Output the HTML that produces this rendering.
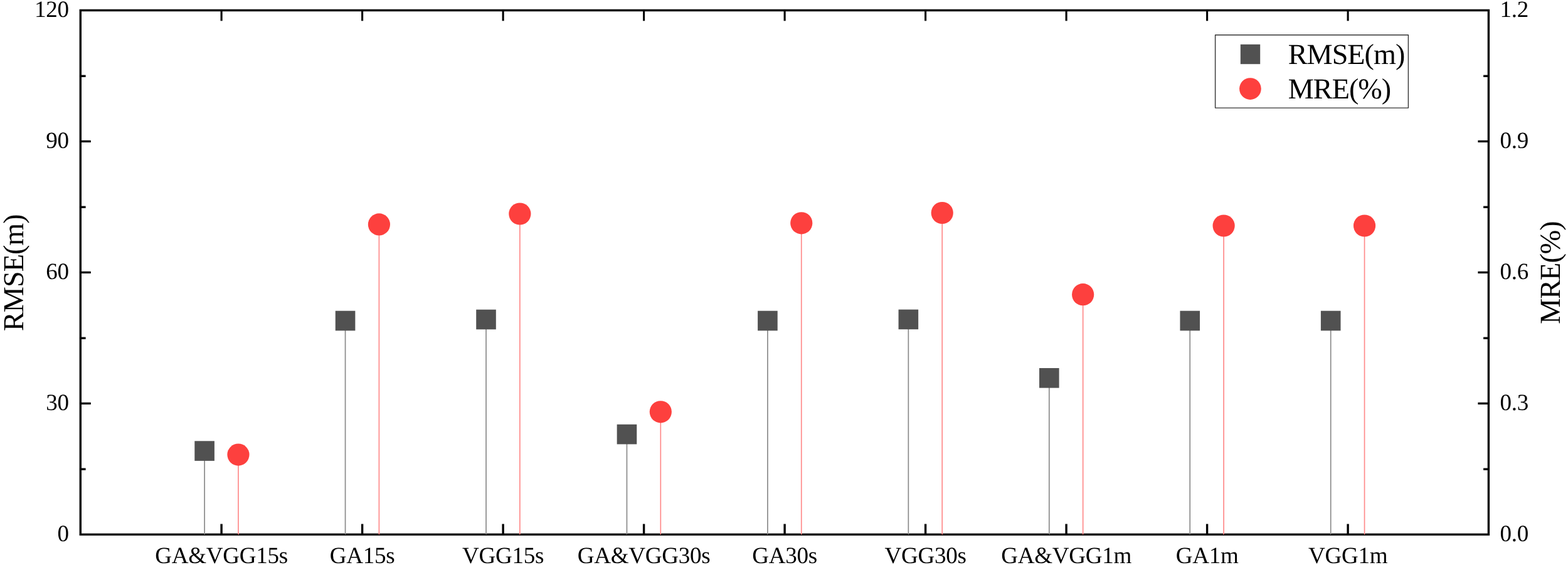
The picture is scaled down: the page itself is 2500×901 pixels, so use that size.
<!DOCTYPE html>
<html lang="en">
<head>
<meta charset="utf-8">
<title>RMSE and MRE comparison chart</title>
<style>
html,body{margin:0;padding:0;background:#fff;}
body{width:2500px;height:901px;overflow:hidden;}
svg{display:block;}
text{font-family:"Liberation Serif",serif;fill:#000;text-rendering:geometricPrecision;}
.tk{font-size:37.1px;letter-spacing:-0.3px;}
.ti{font-size:46.2px;letter-spacing:-0.95px;}
.lg{font-size:46.2px;letter-spacing:-1px;}
</style>
</head>
<body>
<svg width="2500" height="901" viewBox="0 0 2500 901">
<rect x="0" y="0" width="2500" height="901" fill="#ffffff"/>
<rect x="128.30" y="16.50" width="2245.10" height="835.85" fill="none" stroke="#000" stroke-width="3.4"/>
<g stroke="#000" stroke-width="3.3" fill="none">
<line x1="353.10" y1="852.35" x2="353.10" y2="835.55" stroke-width="3.4"/>
<line x1="353.10" y1="16.50" x2="353.10" y2="33.30" stroke-width="3.1"/>
<line x1="577.60" y1="852.35" x2="577.60" y2="835.55" stroke-width="3.4"/>
<line x1="577.60" y1="16.50" x2="577.60" y2="33.30" stroke-width="3.1"/>
<line x1="802.10" y1="852.35" x2="802.10" y2="835.55" stroke-width="3.4"/>
<line x1="802.10" y1="16.50" x2="802.10" y2="33.30" stroke-width="3.1"/>
<line x1="1026.60" y1="852.35" x2="1026.60" y2="835.55" stroke-width="3.4"/>
<line x1="1026.60" y1="16.50" x2="1026.60" y2="33.30" stroke-width="3.1"/>
<line x1="1251.10" y1="852.35" x2="1251.10" y2="835.55" stroke-width="3.4"/>
<line x1="1251.10" y1="16.50" x2="1251.10" y2="33.30" stroke-width="3.1"/>
<line x1="1475.60" y1="852.35" x2="1475.60" y2="835.55" stroke-width="3.4"/>
<line x1="1475.60" y1="16.50" x2="1475.60" y2="33.30" stroke-width="3.1"/>
<line x1="1700.10" y1="852.35" x2="1700.10" y2="835.55" stroke-width="3.4"/>
<line x1="1700.10" y1="16.50" x2="1700.10" y2="33.30" stroke-width="3.1"/>
<line x1="1924.60" y1="852.35" x2="1924.60" y2="835.55" stroke-width="3.4"/>
<line x1="1924.60" y1="16.50" x2="1924.60" y2="33.30" stroke-width="3.1"/>
<line x1="2149.10" y1="852.35" x2="2149.10" y2="835.55" stroke-width="3.4"/>
<line x1="2149.10" y1="16.50" x2="2149.10" y2="33.30" stroke-width="3.1"/>
<line x1="128.30" y1="748.17" x2="136.60" y2="748.17"/>
<line x1="2373.40" y1="748.17" x2="2365.10" y2="748.17"/>
<line x1="128.30" y1="643.39" x2="144.80" y2="643.39"/>
<line x1="2373.40" y1="643.39" x2="2356.40" y2="643.39"/>
<line x1="128.30" y1="539.21" x2="136.60" y2="539.21"/>
<line x1="2373.40" y1="539.21" x2="2365.10" y2="539.21"/>
<line x1="128.30" y1="434.43" x2="144.80" y2="434.43"/>
<line x1="2373.40" y1="434.43" x2="2356.40" y2="434.43"/>
<line x1="128.30" y1="330.24" x2="136.60" y2="330.24"/>
<line x1="2373.40" y1="330.24" x2="2365.10" y2="330.24"/>
<line x1="128.30" y1="225.46" x2="144.80" y2="225.46"/>
<line x1="2373.40" y1="225.46" x2="2356.40" y2="225.46"/>
<line x1="128.30" y1="121.28" x2="136.60" y2="121.28"/>
<line x1="2373.40" y1="121.28" x2="2365.10" y2="121.28"/>
</g>
<g stroke-width="1.7" fill="none">
<line x1="326.10" y1="719.10" x2="326.10" y2="852.55" stroke="#8a8a8a"/>
<line x1="379.95" y1="725.10" x2="379.95" y2="852.55" stroke="#ff8a8a"/>
<line x1="550.55" y1="511.50" x2="550.55" y2="852.55" stroke="#8a8a8a"/>
<line x1="604.40" y1="357.90" x2="604.40" y2="852.55" stroke="#ff8a8a"/>
<line x1="775.00" y1="509.50" x2="775.00" y2="852.55" stroke="#8a8a8a"/>
<line x1="828.85" y1="341.00" x2="828.85" y2="852.55" stroke="#ff8a8a"/>
<line x1="999.45" y1="692.60" x2="999.45" y2="852.55" stroke="#8a8a8a"/>
<line x1="1053.30" y1="656.80" x2="1053.30" y2="852.55" stroke="#ff8a8a"/>
<line x1="1223.90" y1="511.50" x2="1223.90" y2="852.55" stroke="#8a8a8a"/>
<line x1="1277.75" y1="355.80" x2="1277.75" y2="852.55" stroke="#ff8a8a"/>
<line x1="1448.35" y1="509.40" x2="1448.35" y2="852.55" stroke="#8a8a8a"/>
<line x1="1502.20" y1="339.50" x2="1502.20" y2="852.55" stroke="#ff8a8a"/>
<line x1="1672.80" y1="602.80" x2="1672.80" y2="852.55" stroke="#8a8a8a"/>
<line x1="1726.65" y1="469.70" x2="1726.65" y2="852.55" stroke="#ff8a8a"/>
<line x1="1897.25" y1="511.50" x2="1897.25" y2="852.55" stroke="#8a8a8a"/>
<line x1="1951.10" y1="360.00" x2="1951.10" y2="852.55" stroke="#ff8a8a"/>
<line x1="2121.70" y1="511.50" x2="2121.70" y2="852.55" stroke="#8a8a8a"/>
<line x1="2175.55" y1="360.00" x2="2175.55" y2="852.55" stroke="#ff8a8a"/>
</g>
<g>
<rect x="310.30" y="703.30" width="31.60" height="31.60" fill="#515151"/>
<circle cx="379.95" cy="725.10" r="17.60" fill="#fd403e"/>
<rect x="534.75" y="495.70" width="31.60" height="31.60" fill="#515151"/>
<circle cx="604.40" cy="357.90" r="17.60" fill="#fd403e"/>
<rect x="759.20" y="493.70" width="31.60" height="31.60" fill="#515151"/>
<circle cx="828.85" cy="341.00" r="17.60" fill="#fd403e"/>
<rect x="983.65" y="676.80" width="31.60" height="31.60" fill="#515151"/>
<circle cx="1053.30" cy="656.80" r="17.60" fill="#fd403e"/>
<rect x="1208.10" y="495.70" width="31.60" height="31.60" fill="#515151"/>
<circle cx="1277.75" cy="355.80" r="17.60" fill="#fd403e"/>
<rect x="1432.55" y="493.60" width="31.60" height="31.60" fill="#515151"/>
<circle cx="1502.20" cy="339.50" r="17.60" fill="#fd403e"/>
<rect x="1657.00" y="587.00" width="31.60" height="31.60" fill="#515151"/>
<circle cx="1726.65" cy="469.70" r="17.60" fill="#fd403e"/>
<rect x="1881.45" y="495.70" width="31.60" height="31.60" fill="#515151"/>
<circle cx="1951.10" cy="360.00" r="17.60" fill="#fd403e"/>
<rect x="2105.90" y="495.70" width="31.60" height="31.60" fill="#515151"/>
<circle cx="2175.55" cy="360.00" r="17.60" fill="#fd403e"/>
</g>
<g class="tk">
<text x="109.70" y="863.00" text-anchor="end">0</text>
<text x="2391.60" y="863.00" text-anchor="start">0.0</text>
<text x="109.70" y="654.00" text-anchor="end">30</text>
<text x="2391.60" y="654.00" text-anchor="start">0.3</text>
<text x="109.70" y="445.00" text-anchor="end">60</text>
<text x="2391.60" y="445.00" text-anchor="start">0.6</text>
<text x="109.70" y="236.00" text-anchor="end">90</text>
<text x="2391.60" y="236.00" text-anchor="start">0.9</text>
<text x="109.70" y="27.00" text-anchor="end">120</text>
<text x="2391.60" y="27.00" text-anchor="start">1.2</text>
<text x="353.10" y="898.00" text-anchor="middle">GA&amp;VGG15s</text>
<text x="577.60" y="898.00" text-anchor="middle">GA15s</text>
<text x="802.10" y="898.00" text-anchor="middle">VGG15s</text>
<text x="1026.60" y="898.00" text-anchor="middle">GA&amp;VGG30s</text>
<text x="1251.10" y="898.00" text-anchor="middle">GA30s</text>
<text x="1475.60" y="898.00" text-anchor="middle">VGG30s</text>
<text x="1700.10" y="898.00" text-anchor="middle">GA&amp;VGG1m</text>
<text x="1924.60" y="898.00" text-anchor="middle">GA1m</text>
<text x="2149.10" y="898.00" text-anchor="middle">VGG1m</text>
</g>
<text class="ti" text-anchor="middle" transform="translate(36.60 435.15) rotate(-90)">RMSE(m)</text>
<text class="ti" text-anchor="middle" transform="translate(2487.30 435.05) rotate(-90)">MRE(%)</text>
<rect x="1937.60" y="55.80" width="307.80" height="116.30" fill="#fff" stroke="#333" stroke-width="1.4" stroke-linejoin="round"/>
<rect x="1977.80" y="70.80" width="31.40" height="31.40" fill="#515151"/>
<circle cx="1993.40" cy="141.55" r="17.35" fill="#fd403e"/>
<text class="lg" x="2053.80" y="101.90">RMSE(m)</text>
<text class="lg" x="2053.80" y="157.10">MRE(%)</text>
</svg>
</body>
</html>
